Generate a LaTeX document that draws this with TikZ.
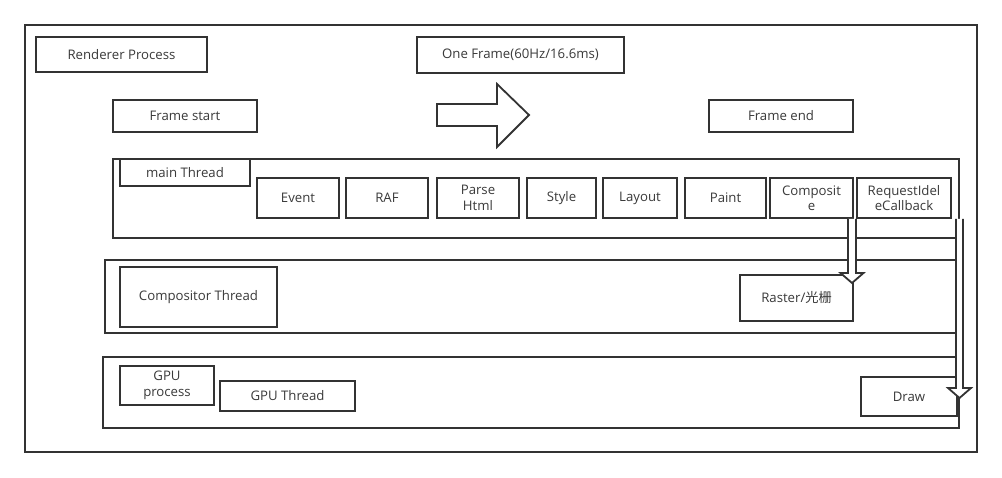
\documentclass[tikz,border=0pt]{standalone}
\usepackage{fontspec}
\setmainfont{Open Sans}
\newfontfamily\cjkfont{Noto Sans CJK SC}
\usetikzlibrary{calc}
\definecolor{ln}{HTML}{333333}
\definecolor{tx}{HTML}{3a3a3a}
\begin{document}
\begin{tikzpicture}[x=1pt,y=-1pt,
  box/.style={draw=ln,line width=1.8pt,fill=white,inner sep=0pt,align=center,
    text=tx,font=\fontsize{13.2}{15.5}\selectfont},
  cont/.style={draw=ln,line width=1.8pt,inner sep=0pt},
  hollow/.style={draw=ln,line width=1.8pt,fill=white,line join=miter}]
\useasboundingbox (0,0) rectangle (1002,478);
% outer frame
\node[cont,minimum width=952,minimum height=427] (frame) at (501,238.5) {};
% top row
\node[box,minimum width=171,minimum height=35] (rp) at (121.5,54.5) {Renderer Process};
\node[box,minimum width=207,minimum height=36] (of) at (520.5,55) {One Frame(60Hz/16.6ms)};
\node[box,minimum width=144,minimum height=32] (fs) at (185,116) {Frame start};
\node[box,minimum width=144,minimum height=32] (fe) at (781,116) {Frame end};
% containers
\node[cont,minimum width=846,minimum height=79] (mainC) at (536,198.5) {};
\node[cont,minimum width=855,minimum height=73] (compC) at (532.5,296.5) {};
\node[cont,minimum width=856,minimum height=71] (gpuC) at (531,392.5) {};
% main thread
\node[box,minimum width=130,minimum height=27] (mt) at (185,172.5) {main Thread};
\node[box,minimum width=82,minimum height=40] (ev) at (298,198) {Event};
\node[box,minimum width=82,minimum height=40] (raf) at (387,198) {RAF};
\node[box,minimum width=82,minimum height=40] (ph) at (478,198) {Parse\\Html};
\node[box,minimum width=69,minimum height=40] (st) at (561.5,198) {Style};
\node[box,minimum width=74,minimum height=40] (lay) at (640,198) {Layout};
\node[box,minimum width=81,minimum height=40] (pt) at (725.5,198) {Paint};
\node[box,minimum width=83,minimum height=40] (cp) at (811.5,198) {Composit\\e};
\node[box,minimum width=94,minimum height=40] (ric) at (904,198) {RequestIdel\\eCallback};
% compositor
\node[box,minimum width=157,minimum height=60] (ct) at (198.5,297) {Compositor Thread};
\node[box,minimum width=113,minimum height=46] (ra) at (796.5,298) {Raster/{\cjkfont 光栅}};
% gpu
\node[box,minimum width=94,minimum height=39] (gp) at (167,385.5) {GPU\\process};
\node[box,minimum width=135,minimum height=30] (gt) at (287.5,396) {GPU Thread};
\node[box,minimum width=96,minimum height=39] (dr) at (909,396.5) {Draw};
% horizontal block arrow
\coordinate (h0) at (437,115);
\coordinate (h1) at (529,115);
\draw[hollow] ([yshift=11]h0) -- ([xshift=-32,yshift=11]h1) -- ([xshift=-32,yshift=31]h1)
  -- (h1) -- ([xshift=-32,yshift=-32]h1) -- ([xshift=-32,yshift=-11]h1)
  -- ([yshift=-11]h0) -- cycle;
% down arrow 1: Composite -> Raster
\coordinate (a1s) at (cp.south -| 852,0);
\coordinate (a1e) at (852,283);
\draw[hollow] ([xshift=-4]a1s) -- ([xshift=-4,yshift=10]a1e) -- ([xshift=-11.5,yshift=10]a1e)
  -- (a1e) -- ([xshift=11.5,yshift=10]a1e) -- ([xshift=4,yshift=10]a1e)
  -- ([xshift=4]a1s);
% down arrow 2: RequestIdleCallback -> Draw
\coordinate (a2s) at (ric.south -| 959.5,0);
\coordinate (a2e) at (959.5,398);
\draw[hollow] ([xshift=-3.5]a2s) -- ([xshift=-3.5,yshift=10]a2e) -- ([xshift=-11.5,yshift=10]a2e)
  -- (a2e) -- ([xshift=11.5,yshift=10]a2e) -- ([xshift=3.5,yshift=10]a2e)
  -- ([xshift=3.5]a2s);
\end{tikzpicture}
\end{document}
